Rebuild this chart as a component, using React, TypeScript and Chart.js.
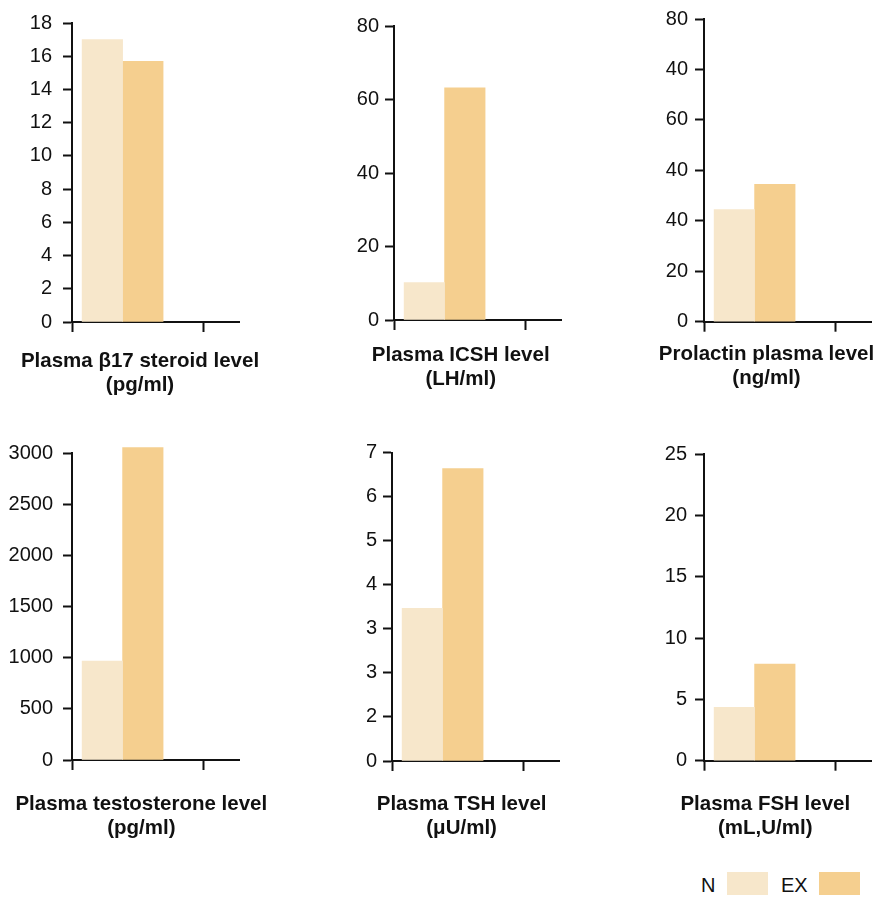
import React, { useEffect, useRef } from "react";
import { Chart, registerables } from "chart.js";

Chart.register(...registerables);

// ---------- data ----------
const categories = ["N", "EX"];
const panelTitles: string[][] = [
  ["Plasma β17 steroid level", "(pg/ml)"],
  ["Plasma ICSH level", "(LH/ml)"],
  ["Prolactin plasma level", "(ng/ml)"],
  ["Plasma testosterone level", "(pg/ml)"],
  ["Plasma TSH level", "(μU/ml)"],
  ["Plasma FSH level", "(mL,U/ml)"],
];
const nValues = [17.0, 10.2, 44.4, 968, 3.47, 4.36];
const exValues = [15.7, 63.2, 54.5, 3056, 6.64, 7.87];
const yMax = [18, 80, 120, 3000, 7, 25];
const yStep = [2, 20, 20, 500, 1, 5];
// tick labels as printed (bottom to top); null = numeric value
const yTickLabels: (string[] | null)[] = [
  null,
  null,
  ["0", "20", "40", "40", "60", "40", "80"],
  null,
  ["0", "2", "3", "3", "4", "5", "6", "7"],
  null,
];

// ---------- styles / layout ----------
const COLORS = ["#F7E7CB", "#F5CF8F"];
const INK = "#111111";
const FONT = "'Liberation Sans', Arial, Helvetica, sans-serif";

const PANELS = [
  { axisX: 72, plotTop: 16, plotBottom: 322, titleBase: 367, titleDx: 68, tickPad: 11, top: 0 },
  { axisX: 394.3, plotTop: 26, plotBottom: 320, titleBase: 361, titleDx: 66.7, tickPad: 6, top: 0 },
  { axisX: 703.5, plotTop: 15, plotBottom: 321.7, titleBase: 360, titleDx: 62.5, tickPad: 7, top: 0 },
  { axisX: 71.7, plotTop: 453.3, plotBottom: 760, titleBase: 810, titleDx: 69.3, tickPad: 10, top: 400 },
  { axisX: 391.7, plotTop: 452.8, plotBottom: 761, titleBase: 810, titleDx: 69.6, tickPad: 6, top: 400 },
  { axisX: 704, plotTop: 454, plotBottom: 760.7, titleBase: 810, titleDx: 61.3, tickPad: 8, top: 400 },
];
const YW = 66; // y-scale box width (canvas left -> axis line)
const PAD_RIGHT = 40;
const PLOT_W = 167;
const X_MIN = -0.75;
const X_MAX = 3.375;
const X_TICK = 2.5;
const X_TICK_LEN = 10;
const Y_TICK_LEN = 9;
const TITLE_LINE = 24;
const TITLE_SIZE = 20.5;

// draws the two-line panel caption under the x axis
const captionPlugin = {
  id: "panelCaption",
  afterDraw(chart: any, _args: any, opts: any) {
    const { ctx, chartArea } = chart;
    const lines: string[] = opts.lines || [];
    ctx.save();
    ctx.font = `bold ${TITLE_SIZE}px ${FONT}`;
    ctx.fillStyle = INK;
    ctx.textAlign = "center";
    ctx.textBaseline = "alphabetic";
    lines.forEach((line, j) => {
      ctx.fillText(line, chartArea.left + opts.dx, chartArea.bottom + opts.dy + j * TITLE_LINE);
    });
    ctx.restore();
  },
};

function Panel({ i }: { i: number }) {
  const ref = useRef<HTMLCanvasElement>(null);
  const p = PANELS[i];
  const left = p.axisX - YW;
  const width = Math.round(YW + PLOT_W + PAD_RIGHT);
  const captionDy = p.titleBase - p.plotBottom;
  const padBottom = captionDy + TITLE_LINE + 10 - X_TICK_LEN;
  const height = Math.round(p.plotBottom - p.top + X_TICK_LEN + padBottom);

  useEffect(() => {
    if (!ref.current) return;
    const series = [nValues, exValues];
    const labels = yTickLabels[i];
    const chart = new Chart(ref.current, {
      type: "bar",
      plugins: [captionPlugin],
      data: {
        datasets: categories.map((c, k) => ({
          label: c,
          data: [{ x: k, y: series[k][i] }],
          backgroundColor: COLORS[k],
          borderWidth: 0,
          grouped: false,
          clip: false as any,
          categoryPercentage: 1,
          barPercentage: 1,
        })),
      },
      options: {
        animation: false,
        responsive: false,
        maintainAspectRatio: false,
        events: [],
        layout: {
          padding: {
            top: p.plotTop - p.top,
            right: PAD_RIGHT,
            bottom: padBottom,
            left: 0,
          },
        },
        plugins: {
          legend: { display: false },
          tooltip: { enabled: false },
          title: { display: false },
          panelCaption: { lines: panelTitles[i], dx: p.titleDx, dy: captionDy },
        },
        scales: {
          x: {
            type: "linear",
            offset: false,
            min: X_MIN,
            max: X_MAX,
            afterBuildTicks: (s: any) => {
              s.ticks = [{ value: X_MIN }, { value: X_TICK }];
            },
            grid: {
              display: true,
              offset: false,
              drawOnChartArea: false,
              drawTicks: true,
              tickLength: X_TICK_LEN,
              tickWidth: 2,
              tickColor: INK,
            },
            border: { display: true, color: INK, width: 2 },
            ticks: { display: false },
          },
          y: {
            type: "linear",
            min: 0,
            max: yMax[i],
            afterFit: (s: any) => {
              s.width = YW;
            },
            grid: {
              display: true,
              drawOnChartArea: false,
              drawTicks: true,
              tickLength: Y_TICK_LEN,
              tickWidth: 2,
              tickColor: INK,
            },
            border: { display: true, color: INK, width: 2 },
            ticks: {
              stepSize: yStep[i],
              padding: p.tickPad,
              color: INK,
              font: { family: FONT, size: 20 },
              callback: (v: any) => {
                const n = Number(v);
                if (labels) return labels[Math.round(n / yStep[i])] ?? "";
                return String(n);
              },
            },
          },
        },
      } as any,
    });
    return () => chart.destroy();
  }, [i]);

  return (
    <canvas
      ref={ref}
      width={width}
      height={height}
      style={{ position: "absolute", left, top: p.top, width, height }}
    />
  );
}

function Legend() {
  const text: React.CSSProperties = {
    position: "absolute",
    fontFamily: FONT,
    fontSize: 20,
    lineHeight: "20px",
    color: INK,
    top: 875,
  };
  const box: React.CSSProperties = { position: "absolute", top: 872, width: 41, height: 23 };
  return (
    <>
      <span style={{ ...text, left: 701 }}>{categories[0]}</span>
      <div style={{ ...box, left: 727, background: COLORS[0] }} />
      <span style={{ ...text, left: 781 }}>{categories[1]}</span>
      <div style={{ ...box, left: 819, background: COLORS[1] }} />
    </>
  );
}

export default function App() {
  return (
    <div
      style={{
        position: "absolute",
        left: 0,
        top: 0,
        width: 880,
        height: 900,
        overflow: "hidden",
        background: "#ffffff",
      }}
    >
      {PANELS.map((_, i) => (
        <Panel key={i} i={i} />
      ))}
      <Legend />
    </div>
  );
}
